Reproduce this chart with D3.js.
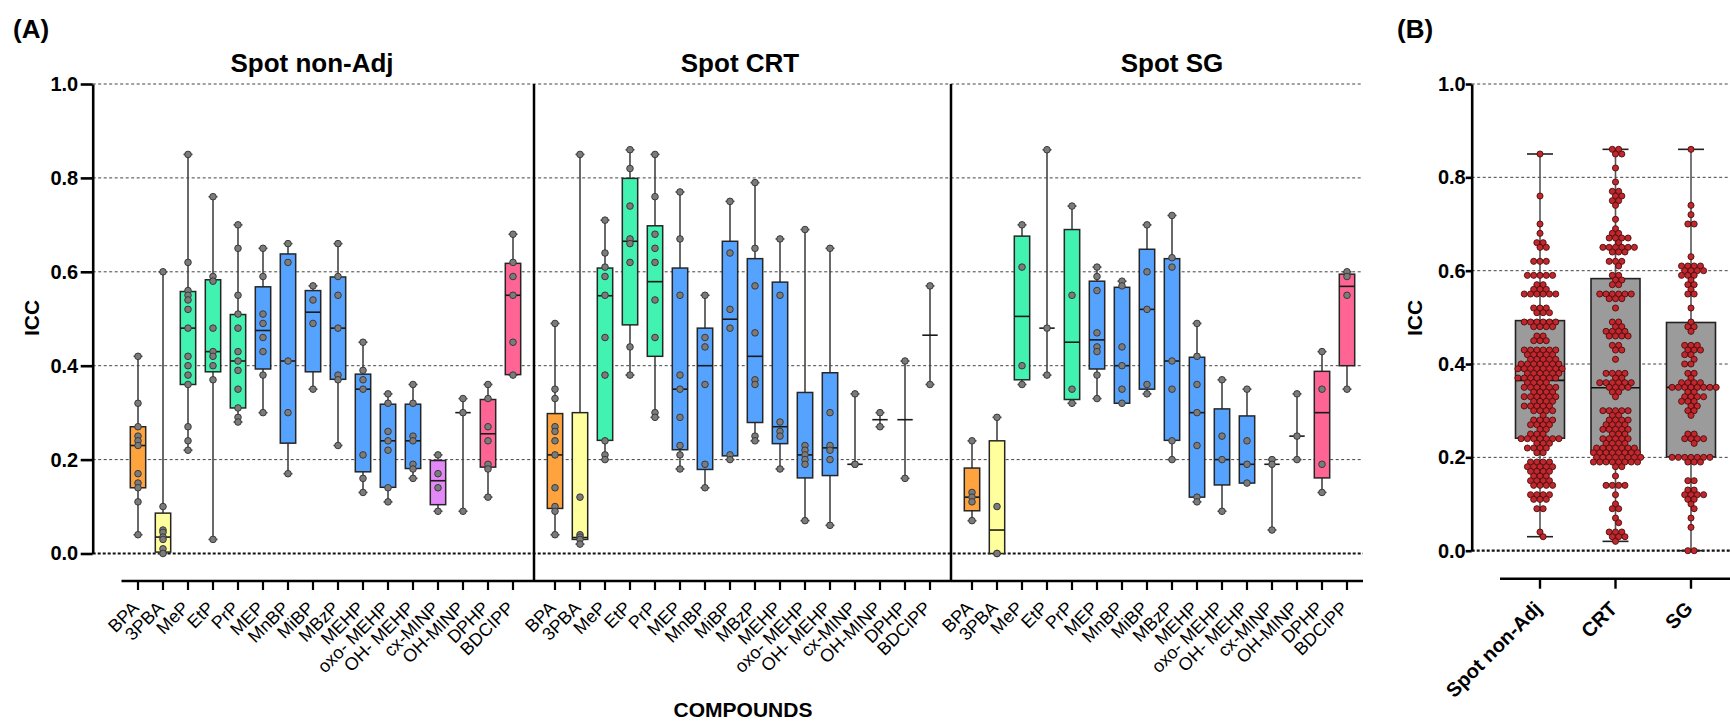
<!DOCTYPE html>
<html><head><meta charset="utf-8">
<script src="https://cdn.jsdelivr.net/npm/d3@7/dist/d3.min.js"></script>
<style>
body{margin:0;background:#fff}
svg{display:block}
</style>
</head><body>
<svg id="chart" width="1730" height="723"></svg>
<script>
// ---------------- DATA ----------------
const compounds = ["BPA","3PBA","MeP","EtP","PrP","MEP","MnBP","MiBP","MBzP","MEHP","oxo- MEHP","OH- MEHP","cx-MINP","OH-MINP","DPHP","BDCIPP"];
const sections = ["Spot non-Adj","Spot CRT","Spot SG"];
const groupsB = ["Spot non-Adj","CRT","SG"];
const yTicks = [0,0.2,0.4,0.6,0.8,1.0];

// [whisker min, Q1, median, Q3, whisker max]; null quartiles = no box drawn
const nonAdjStats = [
  [0.04,0.14,0.23,0.27,0.42],[0.0,0.003,0.035,0.086,0.60],[0.22,0.36,0.48,0.558,0.85],[0.03,0.387,0.43,0.583,0.76],
  [0.28,0.31,0.41,0.509,0.70],[0.30,0.393,0.475,0.568,0.65],[0.17,0.235,0.41,0.638,0.66],[0.35,0.387,0.514,0.56,0.57],
  [0.23,0.371,0.48,0.589,0.66],[0.13,0.174,0.35,0.382,0.45],[0.11,0.141,0.24,0.318,0.34],[0.16,0.181,0.24,0.318,0.36],
  [0.09,0.104,0.155,0.198,0.21],[0.09,null,0.30,null,0.33],[0.12,0.184,0.255,0.328,0.36],[0.38,0.381,0.55,0.618,0.68]
];
const nonAdjPoints = [
  [0.42,0.32,0.27,0.25,0.24,0.23,0.17,0.15,0.14,0.11,0.04],
  [0.60,0.10,0.05,0.045,0.035,0.03,0.01,0.0],
  [0.85,0.62,0.56,0.55,0.54,0.52,0.48,0.42,0.40,0.38,0.36,0.27,0.24,0.22],
  [0.76,0.59,0.58,0.48,0.43,0.42,0.40,0.37,0.03],
  [0.70,0.65,0.55,0.51,0.48,0.43,0.41,0.39,0.35,0.31,0.29,0.28],
  [0.65,0.59,0.51,0.49,0.46,0.43,0.38,0.30],
  [0.66,0.62,0.41,0.30,0.17],
  [0.57,0.54,0.49,0.35],
  [0.66,0.59,0.55,0.48,0.38,0.37,0.23],
  [0.45,0.39,0.37,0.35,0.21,0.16,0.13],
  [0.34,0.32,0.26,0.24,0.22,0.14,0.11],
  [0.36,0.32,0.25,0.24,0.19,0.18,0.16],
  [0.21,0.17,0.14,0.09],
  [0.33,0.30,0.09],
  [0.36,0.33,0.27,0.24,0.19,0.18,0.12],
  [0.68,0.62,0.59,0.55,0.45,0.38]
];

const crtStats = [
  [0.04,0.096,0.21,0.298,0.49],[0.02,0.03,0.034,0.30,0.85],[0.20,0.241,0.549,0.608,0.71],[0.38,0.487,0.665,0.799,0.86],
  [0.29,0.42,0.579,0.698,0.85],[0.18,0.221,0.35,0.608,0.77],[0.14,0.179,0.40,0.48,0.55],[0.20,0.208,0.499,0.665,0.75],
  [0.24,0.279,0.42,0.628,0.79],[0.18,0.234,0.27,0.578,0.67],[0.07,0.161,0.21,0.343,0.69],[0.06,0.166,0.225,0.385,0.65],
  [0.19,null,0.19,null,0.34],[0.27,null,0.285,null,0.30],[0.16,null,0.285,null,0.41],[0.36,null,0.465,null,0.57]
];
const crtPoints = [
  [0.49,0.35,0.33,0.27,0.26,0.24,0.21,0.14,0.10,0.09,0.04],
  [0.85,0.12,0.04,0.035,0.03,0.02],
  [0.71,0.64,0.61,0.59,0.55,0.46,0.38,0.24,0.21,0.20],
  [0.86,0.82,0.74,0.67,0.66,0.62,0.44,0.38],
  [0.85,0.76,0.68,0.65,0.62,0.54,0.46,0.30,0.29],
  [0.77,0.67,0.55,0.38,0.35,0.29,0.23,0.21,0.18],
  [0.55,0.46,0.44,0.36,0.19,0.14],
  [0.75,0.64,0.52,0.48,0.21,0.20],
  [0.79,0.65,0.57,0.47,0.37,0.36,0.25,0.24],
  [0.67,0.55,0.28,0.26,0.25,0.18],
  [0.69,0.23,0.22,0.21,0.20,0.19,0.07],
  [0.65,0.30,0.23,0.22,0.20,0.06],
  [0.34,0.19,0.19],
  [0.30,0.27],
  [0.41,0.16],
  [0.57,0.36]
];

const sgStats = [
  [0.07,0.091,0.12,0.182,0.24],[0.0,0.0,0.05,0.24,0.29],[0.36,0.37,0.505,0.676,0.70],[0.38,null,0.48,null,0.86],
  [0.32,0.328,0.45,0.69,0.74],[0.33,0.393,0.455,0.58,0.61],[0.32,0.32,0.40,0.567,0.58],[0.34,0.35,0.52,0.648,0.70],
  [0.20,0.241,0.41,0.628,0.72],[0.11,0.12,0.30,0.418,0.49],[0.09,0.146,0.20,0.308,0.37],[0.15,0.15,0.19,0.293,0.35],
  [0.05,null,0.19,null,0.20],[0.20,null,0.25,null,0.34],[0.13,0.161,0.30,0.388,0.43],[0.35,0.40,0.569,0.595,0.60]
];
const sgPoints = [
  [0.24,0.13,0.12,0.11,0.07],
  [0.29,0.10,0.0,0.0],
  [0.70,0.61,0.40,0.36],
  [0.86,0.48,0.38],
  [0.74,0.55,0.35,0.32],
  [0.61,0.59,0.56,0.47,0.44,0.43,0.38,0.33],
  [0.58,0.57,0.44,0.40,0.35,0.32],
  [0.70,0.60,0.52,0.36,0.34],
  [0.72,0.63,0.61,0.41,0.35,0.24,0.20],
  [0.49,0.42,0.36,0.30,0.23,0.12,0.11],
  [0.37,0.25,0.20,0.09],
  [0.35,0.24,0.19,0.15],
  [0.20,0.19,0.05],
  [0.34,0.25,0.20],
  [0.43,0.35,0.19,0.13],
  [0.60,0.59,0.55,0.35]
];

// Panel B: pooled box statistics per matrix [min, Q1, median, Q3, max]
const pooledStats = [
  [0.03,0.241,0.365,0.493,0.85],
  [0.02,0.211,0.349,0.583,0.86],
  [0.0,0.201,0.35,0.489,0.86]
];
// Panel B: pooled ICC values read row by row as [value, number of dots]
const nonAdjPooled = [[0.85,1],[0.76,1],[0.70,1],[0.68,1],[0.66,2],[0.65,2],[0.62,3],[0.59,5],[0.57,2],[0.56,3],[0.55,6],
  [0.52,3],[0.51,3],[0.49,6],[0.48,4],[0.46,2],[0.45,3],[0.43,6],[0.42,5],[0.41,5],[0.40,7],[0.39,8],[0.38,6],[0.37,7],
  [0.36,4],[0.35,6],[0.34,4],[0.33,6],[0.32,4],[0.31,5],[0.30,4],[0.29,1],[0.28,4],[0.27,4],[0.26,2],[0.25,3],[0.24,7],
  [0.23,3],[0.22,4],[0.21,2],[0.19,4],[0.18,5],[0.17,4],[0.16,3],[0.15,4],[0.14,4],[0.12,4],[0.11,3],[0.09,2],[0.04,1],[0.03,1]];
const crtPooled = [[0.86,2],[0.85,2],[0.82,1],[0.79,1],[0.77,2],[0.76,2],[0.75,2],[0.74,1],[0.71,1],[0.69,1],[0.68,2],
  [0.67,4],[0.66,1],[0.65,6],[0.64,3],[0.62,3],[0.61,1],[0.59,2],[0.58,2],[0.57,2],[0.55,6],[0.54,3],[0.52,1],[0.49,2],
  [0.48,2],[0.47,4],[0.46,4],[0.44,2],[0.43,2],[0.41,1],[0.38,4],[0.37,2],[0.36,6],[0.35,4],[0.34,2],[0.33,1],[0.30,5],
  [0.29,2],[0.28,4],[0.27,4],[0.26,5],[0.25,3],[0.24,5],[0.23,4],[0.22,7],[0.21,8],[0.20,8],[0.19,8],[0.18,2],[0.16,1],
  [0.14,4],[0.12,1],[0.10,1],[0.09,2],[0.07,1],[0.06,1],[0.04,3],[0.03,3],[0.02,1]];
const sgPooled = [[0.86,1],[0.74,1],[0.72,1],[0.70,2],[0.63,1],[0.61,4],[0.60,4],[0.59,3],[0.58,1],[0.57,2],[0.56,1],
  [0.55,2],[0.52,1],[0.49,1],[0.48,2],[0.47,1],[0.44,3],[0.43,3],[0.42,2],[0.41,1],[0.40,2],[0.38,2],[0.37,1],[0.36,4],
  [0.35,8],[0.34,2],[0.33,4],[0.32,3],[0.31,2],[0.30,2],[0.29,1],[0.25,2],[0.24,4],[0.23,1],[0.20,7],[0.19,3],[0.15,2],
  [0.13,2],[0.12,4],[0.11,2],[0.10,1],[0.09,1],[0.07,1],[0.05,1],[0.00,2]];

// ---------------- STYLE ----------------
const FONT = "'Liberation Sans', Arial, Helvetica, sans-serif";
const boxColors = ["#FFA33F","#FFFF9E","#41F2B0","#41F2B0","#41F2B0","#56A2FF","#56A2FF","#56A2FF","#56A2FF","#56A2FF","#56A2FF","#56A2FF","#E388F7","#E388F7","#FF6594","#FF6594"];
const gridDash = "3,2.5", gridColor = "#444";

const svg = d3.select("#chart").style("font-family", FONT);

// ---------------- PANEL A ----------------
const yA = d3.scaleLinear().domain([0,1]).range([553.5,84]);
const secRanges = [[138,513],[555,930],[972,1347]];
const xs = secRanges.map(r => d3.scalePoint().domain(compounds).range(r));
const leftA = 92.7, rightA = 1363, axisYA = 581;

const gA = svg.append("g");
gA.selectAll("line.grid").data(yTicks.filter(t => t > 0)).join("line")
  .attr("x1", leftA).attr("x2", rightA)
  .attr("y1", d => yA(d)).attr("y2", d => yA(d))
  .attr("stroke", gridColor).attr("stroke-width", 1).attr("stroke-dasharray", gridDash);
gA.append("line").attr("x1", leftA).attr("x2", rightA).attr("y1", yA(0)).attr("y2", yA(0))
  .attr("stroke", "#111").attr("stroke-width", 2.2).attr("stroke-dasharray", "3,2");

function drawSection(x, stats, pts) {
  const g = gA.append("g");
  compounds.forEach((c, i) => {
    const [lo, q1, med, q3, hi] = stats[i];
    const cx = x(c), hw = 7.7;
    g.append("line").attr("x1", cx).attr("x2", cx).attr("y1", yA(lo)).attr("y2", yA(hi))
      .attr("stroke", "#444").attr("stroke-width", 1.6);
    [lo, hi].forEach(v => g.append("line").attr("x1", cx - 4.5).attr("x2", cx + 4.5)
      .attr("y1", yA(v)).attr("y2", yA(v)).attr("stroke", "#444").attr("stroke-width", 1.5));
    if (q1 !== null) {
      g.append("rect").attr("x", cx - hw).attr("y", yA(q3)).attr("width", 2 * hw)
        .attr("height", yA(q1) - yA(q3)).attr("fill", boxColors[i])
        .attr("stroke", "#262626").attr("stroke-width", 1.5);
    }
    g.append("line").attr("x1", cx - hw).attr("x2", cx + hw).attr("y1", yA(med)).attr("y2", yA(med))
      .attr("stroke", "#1a1a1a").attr("stroke-width", 1.6);
    g.selectAll(null).data(pts[i]).join("circle")
      .attr("cx", cx).attr("cy", d => yA(d)).attr("r", 3.3)
      .attr("fill", "#7b7b7b").attr("stroke", "#3a3a3a").attr("stroke-width", 1);
  });
}
drawSection(xs[0], nonAdjStats, nonAdjPoints);
drawSection(xs[1], crtStats, crtPoints);
drawSection(xs[2], sgStats, sgPoints);

// separators between matrices
const seps = [ (xs[0](compounds[15]) + xs[1](compounds[0])) / 2, (xs[1](compounds[15]) + xs[2](compounds[0])) / 2 ];
gA.selectAll("line.sep").data(seps).join("line")
  .attr("x1", d => d).attr("x2", d => d).attr("y1", yA(1)).attr("y2", axisYA)
  .attr("stroke", "#000").attr("stroke-width", 2.5);

// y axis A
const yAxisA = d3.axisLeft(yA).tickValues(yTicks).tickFormat(d3.format(".1f")).tickSize(12).tickSizeOuter(0).tickPadding(2.5);
const gyA = svg.append("g").attr("transform", `translate(${leftA},0)`).call(yAxisA);
gyA.select(".domain").attr("stroke-width", 2.6);
gyA.selectAll(".tick line").attr("stroke-width", 2.6);
gyA.selectAll(".tick text").attr("font-size", 20).attr("font-weight", "bold").attr("font-family", FONT).attr("fill", "#000");

// x axis A
svg.append("line").attr("x1", 121.5).attr("x2", rightA).attr("y1", axisYA).attr("y2", axisYA)
  .attr("stroke", "#000").attr("stroke-width", 2.6);
xs.forEach(x => {
  const g = svg.append("g");
  g.selectAll("line").data(compounds).join("line")
    .attr("x1", d => x(d)).attr("x2", d => x(d)).attr("y1", axisYA).attr("y2", axisYA + 9)
    .attr("stroke", "#000").attr("stroke-width", 2.2);
  g.selectAll("text").data(compounds).join("text")
    .attr("transform", d => `translate(${x(d) + 2},609) rotate(-45)`)
    .attr("text-anchor", "end").attr("font-size", 18).attr("fill", "#000")
    .text(d => d);
});

// titles A
const titleX = [312, 740, 1172];
svg.selectAll("text.sect").data(sections).join("text")
  .attr("x", (d, i) => titleX[i]).attr("y", 72).attr("text-anchor", "middle")
  .attr("font-size", 26).attr("font-weight", "bold").text(d => d);
svg.append("text").attr("x", 13).attr("y", 38).attr("font-size", 26).attr("font-weight", "bold").text("(A)");
svg.append("text").attr("transform", "translate(39,318) rotate(-90)").attr("text-anchor", "middle")
  .attr("font-size", 21).attr("font-weight", "bold").text("ICC");
svg.append("text").attr("x", 743).attr("y", 717).attr("text-anchor", "middle")
  .attr("font-size", 21).attr("font-weight", "bold").text("COMPOUNDS");

// ---------------- PANEL B ----------------
const yB = d3.scaleLinear().domain([0,1]).range([550.7,84]);
const xB = d3.scalePoint().domain(groupsB).range([1540,1691]);
const leftB = 1471.7, rightB = 1730, axisYB = 578.7;
const pooledRows = [nonAdjPooled, crtPooled, sgPooled];

const gB = svg.append("g");
gB.selectAll("line.grid").data(yTicks.filter(t => t > 0)).join("line")
  .attr("x1", leftB).attr("x2", rightB)
  .attr("y1", d => yB(d)).attr("y2", d => yB(d))
  .attr("stroke", gridColor).attr("stroke-width", 1).attr("stroke-dasharray", gridDash);
gB.append("line").attr("x1", leftB).attr("x2", rightB).attr("y1", yB(0)).attr("y2", yB(0))
  .attr("stroke", "#111").attr("stroke-width", 2.2).attr("stroke-dasharray", "3,2");

const dotStep = 6.3, dotR = 3.05;
groupsB.forEach((gname, i) => {
  const [lo, q1, med, q3, hi] = pooledStats[i];
  const cx = xB(gname), hw = 24.5, cap = 13;
  gB.append("line").attr("x1", cx).attr("x2", cx).attr("y1", yB(lo)).attr("y2", yB(hi))
    .attr("stroke", "#555").attr("stroke-width", 1.6);
  [lo, hi].forEach(v => gB.append("line").attr("x1", cx - cap).attr("x2", cx + cap)
    .attr("y1", yB(v)).attr("y2", yB(v)).attr("stroke", "#222").attr("stroke-width", 1.6));
  gB.append("rect").attr("x", cx - hw).attr("y", yB(q3)).attr("width", 2 * hw).attr("height", yB(q1) - yB(q3))
    .attr("fill", "#9b9b9b").attr("stroke", "#222").attr("stroke-width", 1.6);
  gB.append("line").attr("x1", cx - hw).attr("x2", cx + hw).attr("y1", yB(med)).attr("y2", yB(med))
    .attr("stroke", "#111").attr("stroke-width", 1.6);
  // each row of equal values is spread horizontally; rows are staggered to limit overlap
  const placed = [];
  pooledRows[i].slice().sort((a, b) => b[0] - a[0]).forEach(([v, n]) => {
    const y = yB(v);
    const near = placed.filter(p => Math.abs(p.y - y) < 2 * dotR + 0.5);
    let best = null, bestCost = Infinity;
    [0, dotStep / 2, -dotStep / 2].forEach(shift => {
      const offs = d3.range(n).map(k => (k - (n - 1) / 2) * dotStep + shift);
      let cost = Math.abs(shift) * 0.01;
      offs.forEach(o => near.forEach(p => {
        const dist = Math.hypot(o - p.dx, y - p.y);
        if (dist < 2 * dotR) cost += 2 * dotR - dist;
      }));
      if (cost < bestCost) { bestCost = cost; best = offs; }
    });
    best.forEach(o => placed.push({ v, y, dx: o }));
  });
  gB.selectAll(null).data(placed).join("circle")
    .attr("cx", d => cx + d.dx).attr("cy", d => d.y).attr("r", dotR)
    .attr("fill", "#C1272D").attr("stroke", "#4a0d0d").attr("stroke-width", 0.9);
});

const yAxisB = d3.axisLeft(yB).tickValues(yTicks).tickFormat(d3.format(".1f")).tickSize(6).tickSizeOuter(0).tickPadding(0);
const gyB = svg.append("g").attr("transform", `translate(${leftB},0)`).call(yAxisB);
gyB.select(".domain").attr("stroke-width", 2.6);
gyB.selectAll(".tick line").attr("stroke-width", 2.6);
gyB.selectAll(".tick text").attr("font-size", 20).attr("font-weight", "bold").attr("font-family", FONT).attr("fill", "#000");

svg.append("line").attr("x1", 1500).attr("x2", rightB).attr("y1", axisYB).attr("y2", axisYB)
  .attr("stroke", "#000").attr("stroke-width", 2.6);
const gxB = svg.append("g");
gxB.selectAll("line").data(groupsB).join("line")
  .attr("x1", d => xB(d)).attr("x2", d => xB(d)).attr("y1", axisYB).attr("y2", axisYB + 10)
  .attr("stroke", "#000").attr("stroke-width", 2.4);
gxB.selectAll("text").data(groupsB).join("text")
  .attr("transform", d => `translate(${xB(d) + 3},610) rotate(-45)`)
  .attr("text-anchor", "end").attr("font-size", 20).attr("font-weight", "bold").text(d => d);

svg.append("text").attr("x", 1397).attr("y", 38).attr("font-size", 26).attr("font-weight", "bold").text("(B)");
svg.append("text").attr("transform", "translate(1421.5,318) rotate(-90)").attr("text-anchor", "middle")
  .attr("font-size", 21).attr("font-weight", "bold").text("ICC");
</script>
</body></html>
